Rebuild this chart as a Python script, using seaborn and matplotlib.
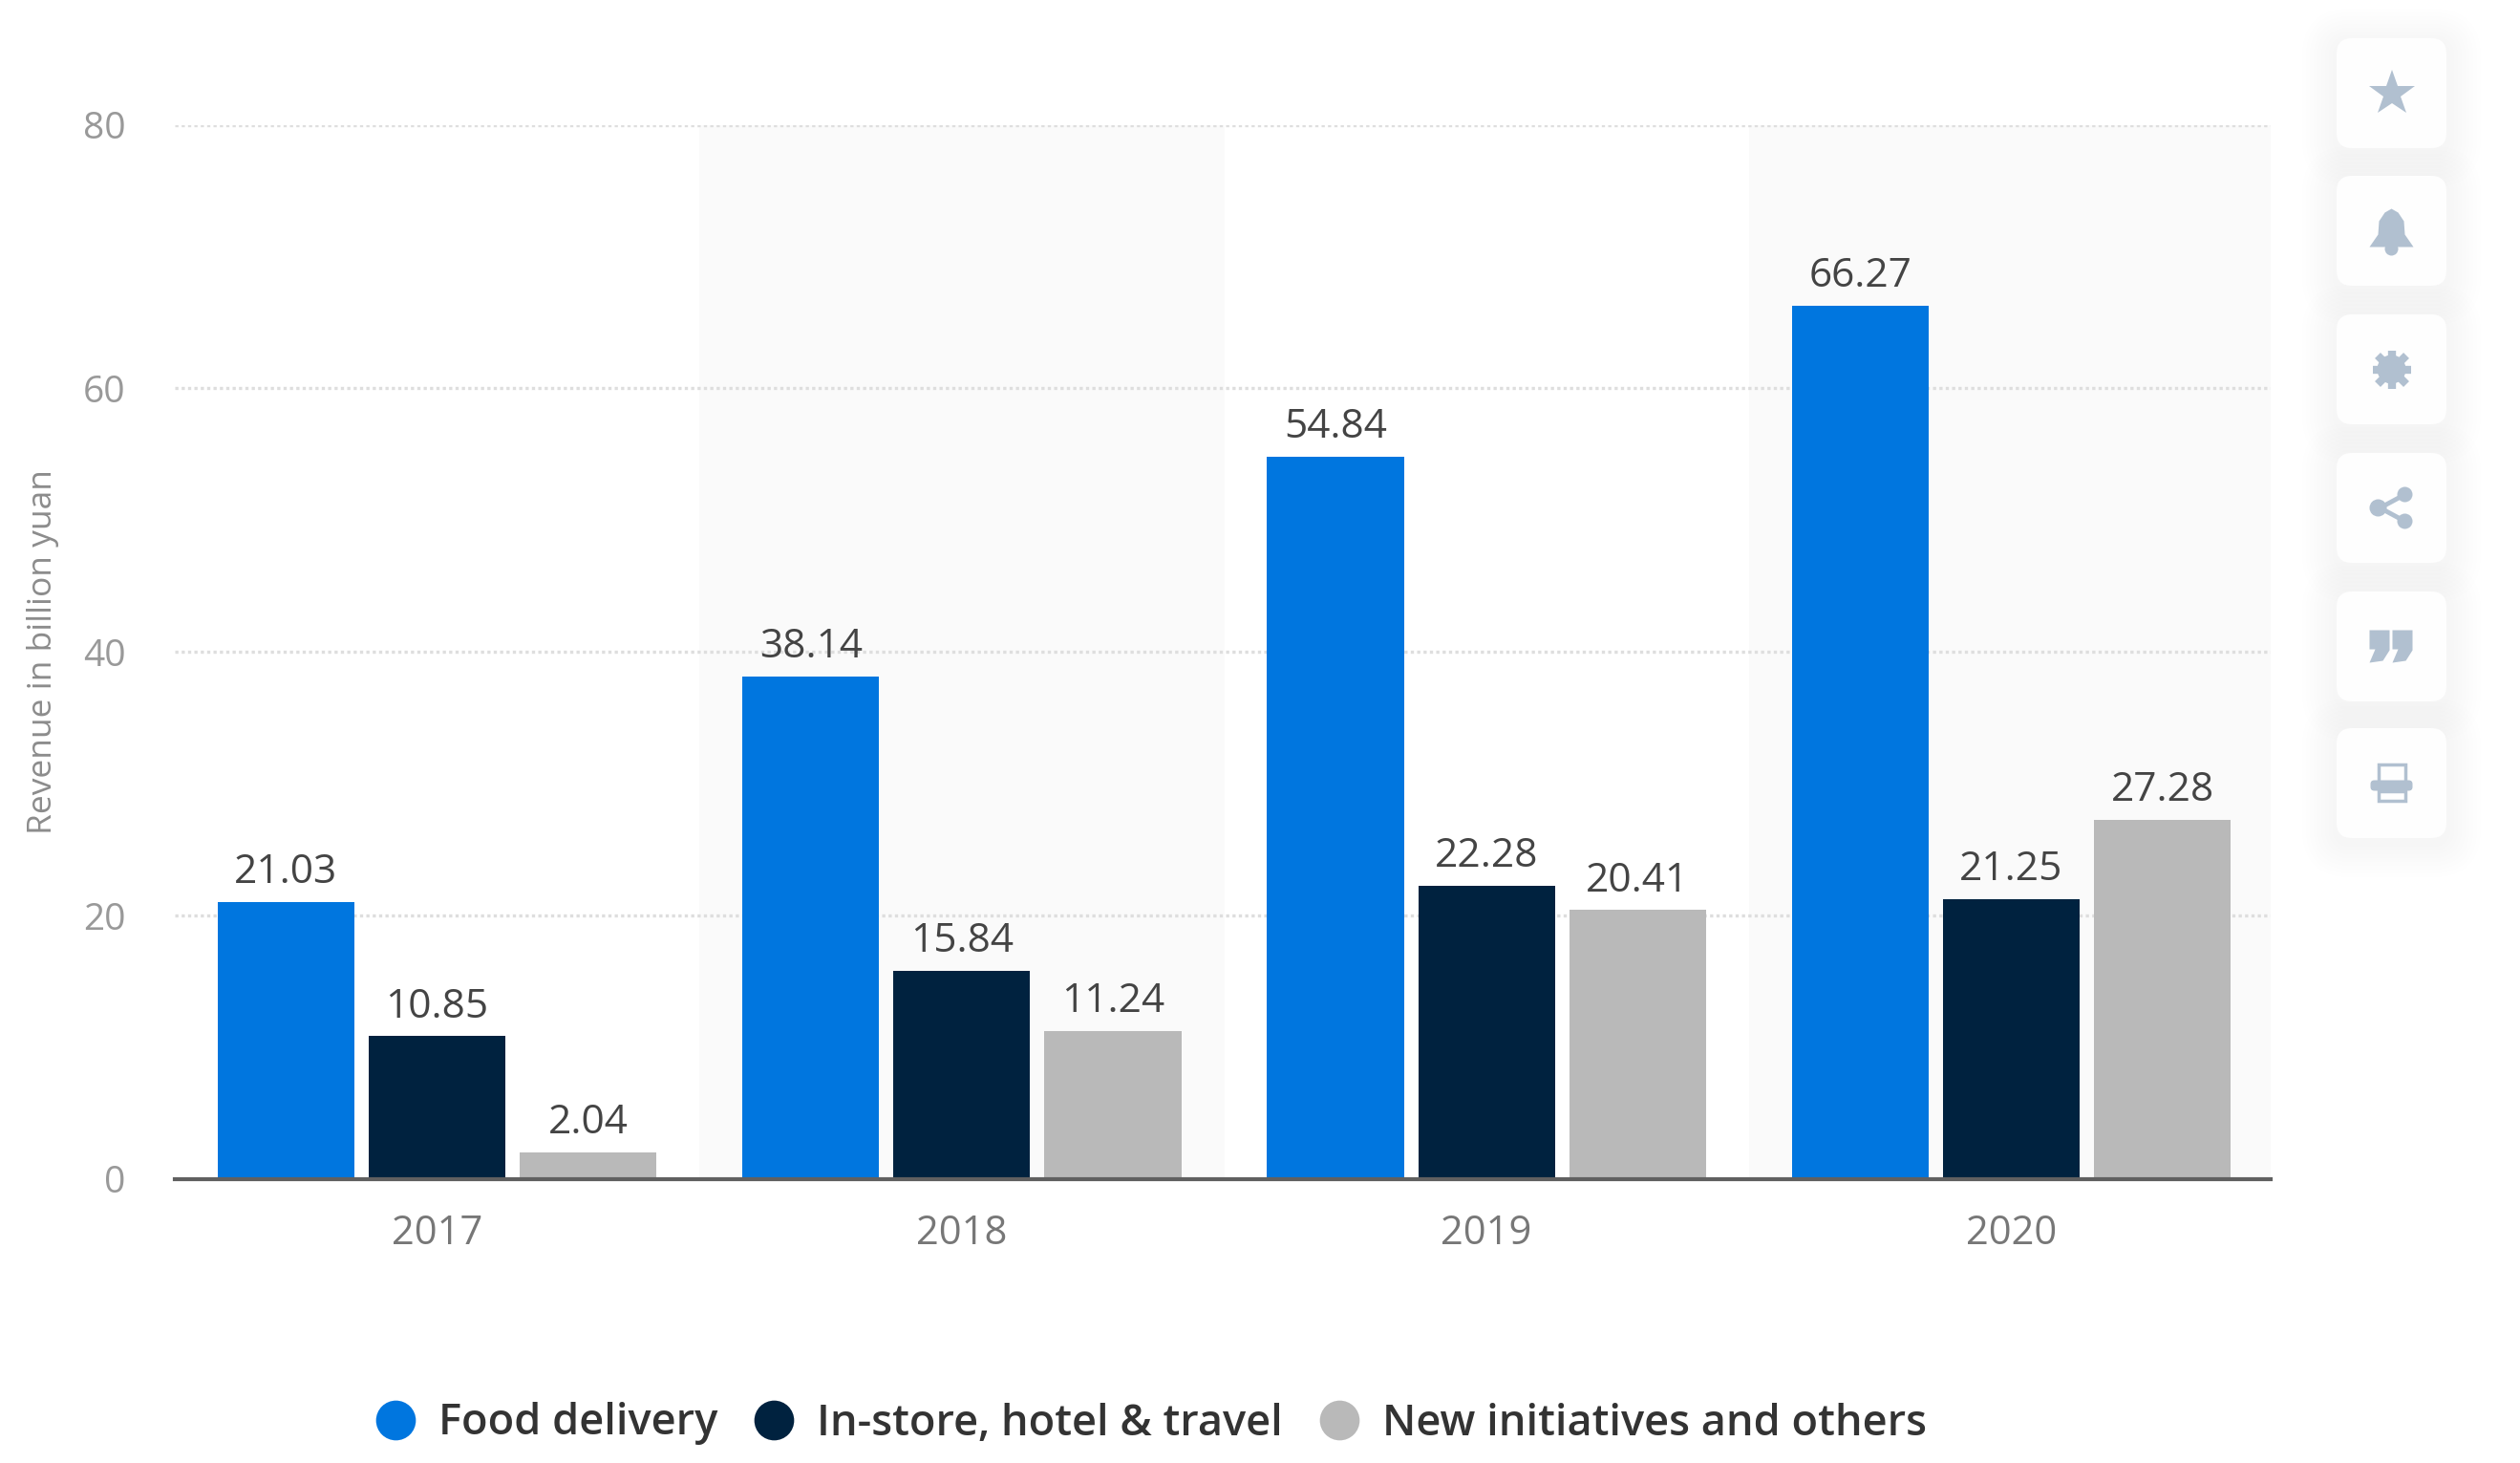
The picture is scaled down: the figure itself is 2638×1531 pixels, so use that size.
import pandas as pd
import matplotlib
matplotlib.use('Agg')
import matplotlib.pyplot as plt
import seaborn as sns
from matplotlib.lines import Line2D
from matplotlib.patches import FancyBboxPatch, Polygon, Circle, Rectangle

# Data
years = ['2017', '2018', '2019', '2020']
food_delivery = [21.03, 38.14, 54.84, 66.27]
in_store = [10.85, 15.84, 22.28, 21.25]
new_initiatives = [2.04, 11.24, 20.41, 27.28]
series_names = ['Food delivery', 'In-store, hotel & travel', 'New initiatives and others']
colors = ['#0076df', '#00223f', '#b9b9b9']
y_ticks = [0, 20, 40, 60, 80]

W, H = 2638, 1531

df = pd.DataFrame({
    'year': years * 3,
    'series': [s for s in series_names for _ in years],
    'value': food_delivery + in_store + new_initiatives,
})

sns.set_theme(style='white')
plt.rcParams['font.family'] = ['Open Sans', 'DejaVu Sans']

fig = plt.figure(figsize=(W / 100, H / 100), dpi=100)
ax = fig.add_axes([183 / W, 1 - 1234 / H, (2377 - 183) / W, (1234 - 130.5) / H])

sns.barplot(data=df, x='year', y='value', hue='series', hue_order=series_names,
            palette=colors, width=0.864, gap=0.095, saturation=1, legend=False,
            linewidth=0, ax=ax, zorder=3)

# Alternating bands behind the years
for pos in [1, 3]:
    ax.axvspan(pos - 0.5, pos + 0.5, color='#fafafa', lw=0, zorder=0)

ax.set_xlim(-0.5, 3.4945)
ax.set_ylim(0, 80)
ax.set_yticks(y_ticks)
ax.grid(axis='y', color='#dedede', linestyle=(0, (1, 1)), linewidth=2.4, zorder=1)
ax.set_axisbelow(True)
ax.set_xlabel('')
ax.set_ylabel('Revenue in billion yuan', fontsize=25.5, color='#8c8c8c', labelpad=0)
ax.yaxis.set_label_coords(-0.0552, 0.5)
ax.tick_params(axis='x', length=0, pad=26, labelsize=30, labelcolor='#777777')
ax.tick_params(axis='y', length=0, pad=37, labelsize=28, labelcolor='#999999')
sns.despine(ax=ax, left=True, top=True, right=True)
ax.spines['bottom'].set_color('#606060')
ax.spines['bottom'].set_linewidth(3)
ax.spines['bottom'].set_zorder(5)

for container in ax.containers:
    ax.bar_label(container, fmt='%.2f', padding=7, fontsize=30.5, color='#444444', fontweight=500)

handles = [Line2D([], [], marker='o', linestyle='', markersize=30, markerfacecolor=c,
                  markeredgewidth=0) for c in colors]
fig.legend(handles, series_names, loc='center', bbox_to_anchor=(1204 / W, 1 - 1490 / H),
           ncol=3, frameon=False, labelcolor='#333333', columnspacing=0.8, handlelength=1,
           handletextpad=0.5, prop={'weight': 600, 'size': 32.5})

# Sidebar with the icon buttons, drawn in reference pixel units
side = fig.add_axes([0, 0, 1, 1], zorder=10)
side.set_xlim(0, W)
side.set_ylim(H, 0)
side.axis('off')
side.patch.set_alpha(0)

icon_color = '#b1c0d0'
card_tops = [40, 184, 329, 474, 619, 762]
card_x, card_size = 2446, 115

for top in card_tops:
    for grow in range(4, 40, 4):
        side.add_patch(FancyBboxPatch((card_x - grow, top - grow + 5), card_size + 2 * grow,
                                      card_size + 2 * grow,
                                      boxstyle=f'round,pad=0,rounding_size={16 + grow}',
                                      fc='#e6ecf3', ec='none', alpha=0.035))

for top in card_tops:
    side.add_patch(FancyBboxPatch((card_x, top), card_size, card_size,
                                  boxstyle='round,pad=0,rounding_size=16', fc='#fefefe', ec='none'))

cx = card_x + card_size / 2
cy = [t + card_size / 2 for t in card_tops]

# star
side.plot(cx, cy[0], marker='*', markersize=36, color=icon_color, mew=0)
# bell
y = cy[1]
side.add_patch(Polygon([(cx - 23, y + 17), (cx - 14, y + 4), (cx - 13, y - 10), (cx - 7, y - 19),
                        (cx, y - 23), (cx + 7, y - 19), (cx + 13, y - 10), (cx + 14, y + 4),
                        (cx + 23, y + 17)], fc=icon_color, ec='none'))
side.add_patch(Circle((cx, y + 19), 7, fc=icon_color, ec='none'))
# gear
y = cy[2]
side.plot(cx, y, marker='+', markersize=29, color=icon_color, mew=6)
side.plot(cx, y, marker='x', markersize=21, color=icon_color, mew=6)
side.add_patch(Circle((cx, y), 15, fc=icon_color, ec='none'))
side.add_patch(Circle((cx, y), 7, fc='#fefefe', ec='none'))
# share
y = cy[3]
side.plot([cx + 14, cx - 12, cx + 14], [y - 14, y, y + 14], color=icon_color, lw=3.5)
for px, py, r in [(cx + 14, y - 14, 8), (cx - 14, y, 9), (cx + 14, y + 14, 8)]:
    side.add_patch(Circle((px, py), r, fc=icon_color, ec='none'))
# quote marks
y = cy[4]
for dx in [-12, 12]:
    side.add_patch(Polygon([(cx + dx - 11, y - 17), (cx + dx + 10, y - 17), (cx + dx + 10, y + 4),
                            (cx + dx + 3, y + 15), (cx + dx - 11, y + 17), (cx + dx - 5, y + 3),
                            (cx + dx - 11, y + 3)], fc=icon_color, ec='none'))
# printer
y = cy[5]
side.add_patch(Rectangle((cx - 14, y - 20), 28, 20, fc='none', ec=icon_color, lw=2.5))
side.add_patch(FancyBboxPatch((cx - 22, y - 3), 44, 11, boxstyle='round,pad=0,rounding_size=4',
                              fc=icon_color, ec='none'))
side.add_patch(Rectangle((cx - 14, y + 8), 28, 10, fc='none', ec=icon_color, lw=2.5))

fig.savefig('out.png', dpi=100, facecolor='white')
